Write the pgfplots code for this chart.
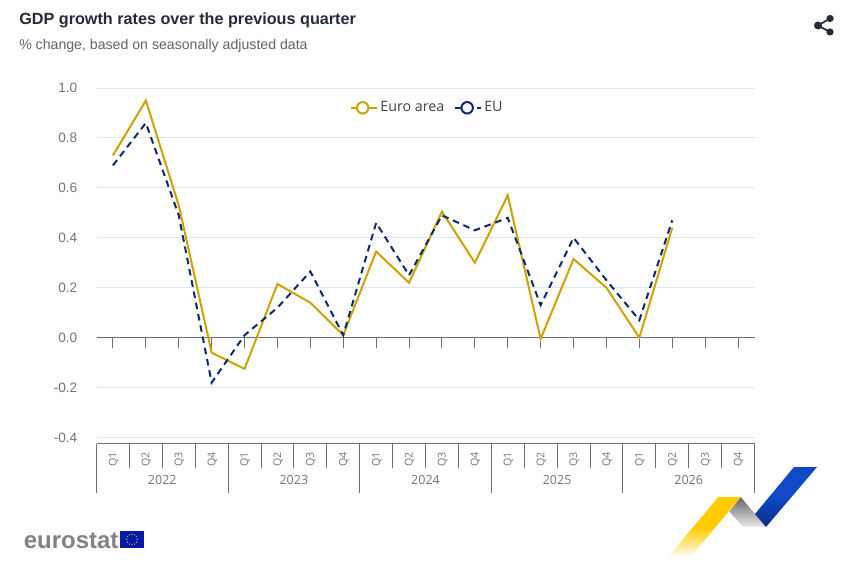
\documentclass[border=0pt]{standalone}
\usepackage{fontspec}
\setmainfont{Liberation Sans}
\newfontfamily\opens{Open Sans}
\usepackage{pgfplots}
\pgfplotsset{compat=1.18}
\definecolor{euroarea}{HTML}{CCA300}
\definecolor{eunavy}{HTML}{0E2A6E}
\definecolor{gridc}{HTML}{DFE5F4}
\definecolor{axisc}{HTML}{6E6E78}
\definecolor{labelc}{HTML}{74757D}
\definecolor{titlec}{HTML}{262B38}
\begin{document}
\begin{tikzpicture}[x=0.75pt,y=-0.75pt]
\path[use as bounding box,fill=white] (0,0) rectangle (843,567);
\coordinate (o) at (96.5,437.5);
\begin{axis}[
  at={(o)},anchor=south west,
  scale only axis,
  width=493.5pt,height=262.1pt,
  xmin=-0.5,xmax=19.5,ymin=-0.4,ymax=1.0,
  clip=false,
  axis x line=middle,
  axis y line*=left,
  axis line style={-},
  y axis line style={draw=none},
  x axis line style={draw=axisc,line width=0.75pt},
  xtick={0,...,19},
  xticklabels={Q1,Q2,Q3,Q4,Q1,Q2,Q3,Q4,Q1,Q2,Q3,Q4,Q1,Q2,Q3,Q4,Q1,Q2,Q3,Q4},
  x tick label style={xshift=0.5pt,yshift=-84pt,rotate=90,anchor=center,font=\opens\fontsize{8}{9}\selectfont,text=labelc},
  xtick style={draw=axisc,line width=0.75pt},
  tick align=outside,
  major tick length=7.5pt,
  ytick={-0.4,-0.2,0,0.2,0.4,0.6,0.8,1.0},
  ytick style={draw=none},
  y tick label style={xshift=-3.4pt,font=\fontsize{10.2}{12}\selectfont,text=labelc,
    /pgf/number format/fixed,/pgf/number format/fixed zerofill,
    /pgf/number format/precision=1,/pgf/number format/assume math mode=true},
  ymajorgrids,
  grid style={draw=gridc,line width=0.75pt},
  legend style={at={(0.503,0.9435)},anchor=center,draw=none,fill=none,
    legend columns=2,font=\opens\fontsize{10.7}{12}\selectfont,text=black!75,
    /tikz/every even column/.append style={column sep=5pt},
    inner sep=0pt},
]
\addplot[euroarea,line width=1.5pt,line join=miter,
  legend image code/.code={
    \path (0pt,0pt) -- (19.5pt,0pt);
    \draw[euroarea,line width=1.5pt] (0pt,0pt) -- (18pt,0pt);
    \draw[euroarea,line width=1.5pt,fill=white] (9pt,0pt) circle (4.3pt);
  }] coordinates {
  (0,0.73) (1,0.95) (2,0.53) (3,-0.06)
  (4,-0.125) (5,0.215) (6,0.14) (7,0.01)
  (8,0.345) (9,0.22) (10,0.505) (11,0.30)
  (12,0.57) (13,-0.005) (14,0.315) (15,0.20)
  (16,0.0) (17,0.44)
};
\addlegendentry{Euro area}
\addplot[eunavy,line width=1.5pt,dash pattern=on 5pt off 3.6pt,
  legend image code/.code={
    \path (0pt,0pt) -- (19.5pt,0pt);
    \draw[eunavy,line width=1.5pt,dash pattern=on 6pt off 11pt on 1.2pt off 3pt] (0pt,0pt) -- (18.4pt,0pt);
    \draw[eunavy,line width=1.5pt,solid,fill=white] (9.4pt,0pt) circle (4.3pt);
  }] coordinates {
  (0,0.69) (1,0.86) (2,0.49) (3,-0.18)
  (4,0.01) (5,0.12) (6,0.265) (7,0.01)
  (8,0.46) (9,0.25) (10,0.49) (11,0.43)
  (12,0.48) (13,0.13) (14,0.40) (15,0.23)
  (16,0.07) (17,0.47)
};
\addlegendentry{EU}
\end{axis}
% category box below the plot
\draw[axisc,line width=0.75pt] (96.5,443.5) -- (754.5,443.5);
\foreach \i in {0,...,20}{
  \draw[axisc,line width=0.75pt] ({96.5+32.9*\i},443.5) -- ({96.5+32.9*\i},468);
}
\foreach \i in {0,...,5}{
  \draw[axisc,line width=0.75pt] ({96.5+131.6*\i},443.5) -- ({96.5+131.6*\i},493);
}
\foreach \i/\y in {0/2022,1/2023,2/2024,3/2025,4/2026}{
  \node[text=labelc,font=\opens\fontsize{9.4}{11}\selectfont] at ({162.3+131.6*\i},480.5) {\y};
}
% titles
\node[anchor=base west,inner sep=0pt,text=titlec,font=\bfseries\fontsize{12.15}{14}\selectfont] at (19,25) {GDP growth rates over the previous quarter};
\node[anchor=base west,inner sep=0pt,text=labelc!85!black,font=\fontsize{10.6}{12}\selectfont] at (19,50) {\% change, based on seasonally adjusted data};
% share icon
\draw[titlec,line width=1.3pt] (830,18.5) -- (818,25.5) -- (830,32);
\fill[titlec] (830,18.5) circle (3.6) (818,25.5) circle (4) (830,32) circle (3.6);
% eurostat logo
\node[anchor=base west,inner sep=0pt,text=labelc!90!white,font=\bfseries\fontsize{18}{20}\selectfont] at (23.5,548) {eurostat};
\fill[eunavy!60!blue] (120,531) rectangle (144,548);
\foreach \a in {0,30,...,330}{
  \fill[yellow!85!orange] ({132+5.3*cos(\a)},{539.5+5.3*sin(\a)}) circle (0.6);
}
% ribbon
\shade[top color=black!60,bottom color=black!8] (729.3,511.7) -- (740.7,497) -- (766,527) -- (743.3,527) -- cycle;
\shade[top color={rgb,255:red,255;green,204;blue,0},bottom color=white,middle color={rgb,255:red,255;green,204;blue,0}] (718.3,497) -- (740.7,497) -- (690,557.7) -- (667.7,557.7) -- cycle;
\shade[top color={rgb,255:red,16;green,72;blue,200},bottom color={rgb,255:red,10;green,45;blue,130},middle color={rgb,255:red,16;green,72;blue,200}] (794,467) -- (817,467) -- (766,527) -- (755,514) -- cycle;
\end{tikzpicture}
\end{document}
